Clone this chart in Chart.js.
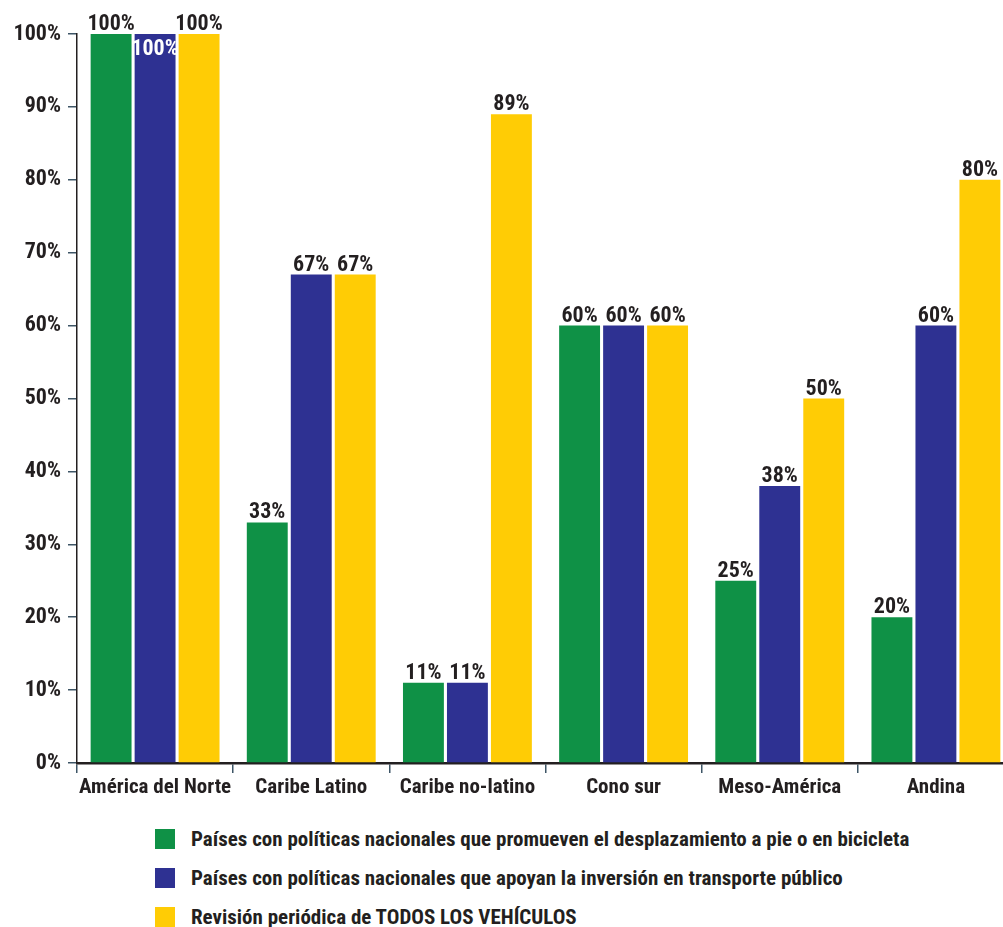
<!DOCTYPE html>
<html>
<head>
<meta charset="utf-8">
<script src="https://cdn.jsdelivr.net/npm/chart.js@4"></script>
<style>
    html, body { margin: 0; padding: 0; background: #fff; overflow: hidden; }
    #wrap { width: 1003px; height: 815px; overflow: hidden; position: relative; }
    #chart-box { width: 1014px; height: 815px; }
    #legend { position: absolute; left: 155px; top: 819px; font-family: 'Roboto Condensed', sans-serif; font-weight: bold; font-size: 21px; color: #231f20; }
    .item { display: flex; align-items: center; height: 39px; }
    .box { width: 20px; height: 20px; margin-right: 16px; }
</style>
</head>
<body>
<div id="wrap"><div id="chart-box"><canvas id="chart-regiones"></canvas></div></div>
<div id="legend"></div>
<script>
const regiones = ['América del Norte', 'Caribe Latino', 'Caribe no-latino', 'Cono sur', 'Meso-América', 'Andina'];
const pieBici = [100, 33, 11, 60, 25, 20];
const transportePublico = [100, 67, 11, 60, 38, 60];
const revisionVehiculos = [100, 67, 89, 60, 50, 80];
const yTicks = [0, 10, 20, 30, 40, 50, 60, 70, 80, 90, 100];

const etiquetas = [
    'Países con políticas nacionales que promueven el desplazamiento a pie o en bicicleta',
    'Países con políticas nacionales que apoyan la inversión en transporte público',
    'Revisión periódica de TODOS LOS VEHÍCULOS'
];
const colores = ['#0f9146', '#2e3192', '#ffcc05'];
const FONT = "'Roboto Condensed', sans-serif";

// value labels above each bar (white inside the bar when it would overlap)
const valueLabels = {
    id: 'valueLabels',
    afterDatasetsDraw(chart) {
        const ctx = chart.ctx;
        ctx.save();
        ctx.font = 'bold 22px ' + FONT;
        ctx.textAlign = 'center';
        ctx.textBaseline = 'alphabetic';
        chart.data.datasets.forEach((ds, i) => {
            chart.getDatasetMeta(i).data.forEach((bar, j) => {
                const v = ds.data[j];
                if (i === 1 && v === 100) {
                    ctx.fillStyle = '#ffffff';
                    ctx.fillText(v + '%', bar.x, bar.y + 21);
                } else {
                    ctx.fillStyle = '#231f20';
                    ctx.fillText(v + '%', bar.x, bar.y - 4);
                }
            });
        });
        ctx.restore();
    }
};

const datos = [pieBici, transportePublico, revisionVehiculos];

new Chart(document.getElementById('chart-regiones'), {
    type: 'bar',
    data: {
        labels: regiones,
        datasets: datos.map((d, i) => ({
            label: etiquetas[i],
            data: d,
            backgroundColor: colores[i],
            barPercentage: 0.93,
            categoryPercentage: 0.845
        }))
    },
    options: {
        responsive: true,
        maintainAspectRatio: false,
        animation: false,
        layout: { padding: { top: 34, left: 0, right: 0, bottom: 0 } },
        plugins: { legend: { display: false }, tooltip: { enabled: false } },
        scales: {
            y: {
                min: 0,
                max: 100,
                afterFit: s => { s.width = 77; },
                afterBuildTicks: s => { s.ticks = yTicks.map(v => ({ value: v })); },
                grid: { drawOnChartArea: false, tickLength: 9, color: '#3d5566', lineWidth: 1.5 },
                border: { color: '#231f20', width: 1.5 },
                ticks: {
                    padding: 7,
                    color: '#231f20',
                    font: { family: FONT, weight: 'bold', size: 22 },
                    callback: v => v + '%'
                }
            },
            x: {
                afterFit: s => { s.height = 52; },
                grid: { drawOnChartArea: false, tickLength: 10, color: '#3d5566', lineWidth: 1.5 },
                border: { color: '#231f20', width: 2.5 },
                ticks: {
                    padding: 2,
                    maxRotation: 0,
                    autoSkip: false,
                    color: '#231f20',
                    font: { family: FONT, weight: 'bold', size: 21 }
                }
            }
        }
    },
    plugins: [valueLabels]
});

const legend = document.getElementById('legend');
etiquetas.forEach((t, i) => {
    const row = document.createElement('div');
    row.className = 'item';
    row.innerHTML = '<span class="box" style="background:' + colores[i] + '"></span><span>' + t + '</span>';
    legend.appendChild(row);
});
</script>
</body>
</html>
